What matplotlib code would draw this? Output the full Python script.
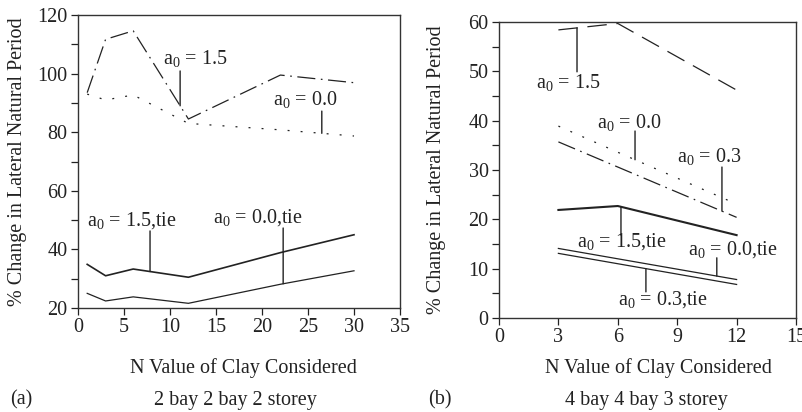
import matplotlib
matplotlib.use("Agg")
import matplotlib.pyplot as plt
import numpy as np

plt.rcParams["font.family"] = ["Liberation Serif", "DejaVu Serif"]
plt.rcParams["mathtext.fontset"] = "custom"
plt.rcParams["mathtext.rm"] = "Liberation Serif"
plt.rcParams["mathtext.default"] = "regular"
plt.rcParams["lines.scale_dashes"] = False

# ---- (a) 2 bay 2 bay 2 storey ----
n_a = [1, 3, 6, 12, 22, 30]
a_dashdot_15 = [93.5, 111.7, 114.6, 84.5, 99.5, 96.9]
a_dotted_00 = [93.0, 91.0, 92.7, 83.0, 80.8, 78.7]
a_tie_15 = [34.9, 31.0, 33.3, 30.5, 38.9, 45.0]
a_tie_00 = [25.0, 22.4, 23.8, 21.6, 28.1, 32.7]

# ---- (b) 4 bay 4 bay 3 storey ----
n_b = [3, 6, 12]
b_dashed_15 = [58.4, 59.7, 46.2]
b_dotted_00 = [38.9, 33.6, 23.1]
b_dashdot_03 = [35.7, 30.6, 20.4]
b_tie_15 = [21.9, 22.7, 16.8]
b_tie_00 = [14.1, 12.0, 7.8]
b_tie_03 = [13.1, 11.0, 6.8]

FS = 14.5
TC = "#222222"
DOTTED = (0, (1.4, 8.0))
DASHDOT = (0, (13.0, 4.0, 1.2, 4.0))
LONGDASH = (0, (14.0, 7.0))

fig = plt.figure(figsize=(8.03, 4.12), dpi=100)
ax1 = fig.add_axes([78 / 803, 1 - 308 / 412, (400 - 78) / 803, (308 - 15) / 412])
ax2 = fig.add_axes([499 / 803, 1 - 318 / 412, (796 - 499) / 803, (318 - 22) / 412])


def style_axes(ax, xlim, ylim, xmaj, ymaj, ymin):
    ax.set_xlim(*xlim)
    ax.set_ylim(*ylim)
    ax.set_xticks(xmaj)
    ax.set_yticks(ymaj)
    ax.set_yticks(ymin, minor=True)
    ax.tick_params(axis="both", which="both", direction="out", length=5,
                   width=0.9, labelsize=FS, colors=TC, pad=2.5)
    for s in ax.spines.values():
        s.set_linewidth(1.0)
        s.set_color("#333333")


def leader(ax, x, y_text, xs, ys, lw=1.0):
    y_line = np.interp(x, xs, ys)
    ax.annotate("", xy=(x, y_line), xytext=(x, y_text),
                arrowprops=dict(arrowstyle="-", lw=lw, color=TC,
                                shrinkA=0, shrinkB=0))


def label(ax, x, y, s):
    ax.text(x, y, s, fontsize=FS, ha="center", va="center", color=TC)


# panel (a)
style_axes(ax1, (0, 35), (20, 120), range(0, 36, 5), range(20, 121, 20),
           range(30, 120, 20))
ax1.plot(n_a, a_dashdot_15, color=TC, lw=0.9, linestyle=DASHDOT)
ax1.plot(n_a, a_dotted_00, color=TC, lw=0.9, linestyle=DOTTED)
ax1.plot(n_a, a_tie_15, color=TC, lw=1.2)
ax1.plot(n_a, a_tie_00, color=TC, lw=0.9)

label(ax1, 12.7, 105.3, r"a$_0$ = 1.5")
leader(ax1, 11.1, 100.9, n_a, a_dashdot_15)
label(ax1, 24.7, 91.0, r"a$_0$ = 0.0")
leader(ax1, 26.5, 87.2, n_a, a_dotted_00)
label(ax1, 5.9, 50.0, r"a$_0$ = 1.5,tie")
leader(ax1, 7.83, 46.3, n_a, a_tie_15)
label(ax1, 19.5, 51.0, r"a$_0$ = 0.0,tie")
leader(ax1, 22.3, 47.3, n_a, a_tie_00)

# panel (b)
style_axes(ax2, (0, 15), (0, 60), range(0, 16, 3), range(0, 61, 10),
           range(5, 60, 10))
ax2.plot(n_b, b_dashed_15, color=TC, lw=0.9, linestyle=LONGDASH)
ax2.plot(n_b, b_dotted_00, color=TC, lw=0.9, linestyle=DOTTED)
ax2.plot(n_b, b_dashdot_03, color=TC, lw=0.9, linestyle=DASHDOT)
ax2.plot(n_b, b_tie_15, color=TC, lw=1.5)
ax2.plot(n_b, b_tie_00, color=TC, lw=0.9)
ax2.plot(n_b, b_tie_03, color=TC, lw=0.9)

label(ax2, 3.5, 47.7, r"a$_0$ = 1.5")
leader(ax2, 3.94, 49.9, n_b, b_dashed_15)
label(ax2, 6.6, 39.6, r"a$_0$ = 0.0")
leader(ax2, 6.87, 37.9, n_b, b_dotted_00)
label(ax2, 10.6, 32.7, r"a$_0$ = 0.3")
leader(ax2, 11.26, 30.6, n_b, b_dashdot_03)
label(ax2, 6.2, 15.4, r"a$_0$ = 1.5,tie")
leader(ax2, 6.16, 16.8, n_b, b_tie_15)
label(ax2, 11.8, 13.8, r"a$_0$ = 0.0,tie")
leader(ax2, 11.0, 12.2, n_b, b_tie_00)
label(ax2, 8.3, 3.65, r"a$_0$ = 0.3,tie")
leader(ax2, 7.42, 5.3, n_b, b_tie_03)

# axis titles and captions
ylab = "% Change in Lateral Natural Period"
xlab = "N Value of Clay Considered"
fig.text(18 / 803, 1 - 161.5 / 412, ylab, rotation=90, ha="center", va="center",
         fontsize=FS, color=TC)
fig.text(437 / 803, 1 - 170 / 412, ylab, rotation=90, ha="center", va="center",
         fontsize=FS, color=TC)
fig.text(243 / 803, 1 - 368 / 412, xlab, ha="center", va="center", fontsize=FS, color=TC)
fig.text(658 / 803, 1 - 368 / 412, xlab, ha="center", va="center", fontsize=FS, color=TC)
fig.text(21 / 803, 1 - 400 / 412, "(a)", ha="center", va="center", fontsize=FS, color=TC)
fig.text(440 / 803, 1 - 400 / 412, "(b)", ha="center", va="center", fontsize=FS, color=TC)
fig.text(235 / 803, 1 - 400 / 412, "2 bay 2 bay 2 storey", ha="center", va="center",
         fontsize=FS, color=TC)
fig.text(646 / 803, 1 - 400 / 412, "4 bay 4 bay 3 storey", ha="center", va="center",
         fontsize=FS, color=TC)

fig.savefig("out.png", dpi=100)
